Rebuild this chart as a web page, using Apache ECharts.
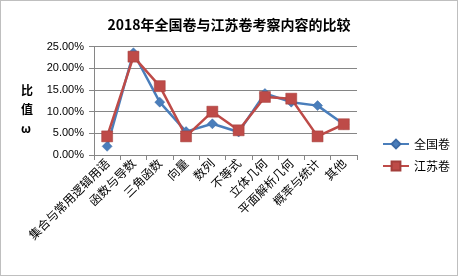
<!DOCTYPE html>
<html>
<head>
<meta charset="utf-8">
<script src="https://cdn.jsdelivr.net/npm/echarts@6/dist/echarts.min.js"></script>
<style>
  html, body { margin: 0; padding: 0; background: #fff; }
  #chart { width: 458px; height: 276px; box-sizing: border-box; border: 1px solid #bfbfbf; }
</style>
</head>
<body>
<div id="chart"></div>
<script>
const categories = ['集合与常用逻辑用语', '函数与导数', '三角函数', '向量', '数列', '不等式', '立体几何', '平面解析几何', '概率与统计', '其他'];
const nationalValues = [0.020, 0.236, 0.122, 0.054, 0.072, 0.053, 0.142, 0.122, 0.114, 0.071];
const jiangsuValues = [0.043, 0.227, 0.159, 0.043, 0.100, 0.057, 0.134, 0.130, 0.043, 0.071];
const yTicks = [0, 0.05, 0.10, 0.15, 0.20, 0.25];

const cjk = '"Noto Sans CJK SC", sans-serif';
const chart = echarts.init(document.getElementById('chart'));

chart.setOption({
  animation: false,
  title: {
    text: '2018年全国卷与江苏卷考察内容的比较',
    left: 'center',
    top: 12,
    textStyle: { fontSize: 14, fontWeight: 'bold', color: '#000', fontFamily: cjk },
  },
  legend: {
    orient: 'vertical',
    left: 376,
    top: 132,
    itemWidth: 26,
    itemHeight: 11,
    itemGap: 10,
    textStyle: { fontSize: 12, color: '#000', fontFamily: cjk },
    data: ['全国卷', '江苏卷'],
  },
  graphic: [
    {
      type: 'text',
      left: 20,
      top: 80,
      style: {
        text: '比\n值\nω',
        font: 'bold 12px "Noto Sans CJK SC", sans-serif',
        lineHeight: 19,
        fill: '#000',
        align: 'center',
      },
    },
  ],
  grid: { left: 93, right: 100, top: 45.7, bottom: 120 },
  xAxis: {
    type: 'category',
    data: categories,
    boundaryGap: true,
    axisLine: { lineStyle: { color: '#868686' } },
    axisTick: { show: true, length: 5, lineStyle: { color: '#868686' } },
    axisLabel: {
      rotate: 45,
      interval: 0,
      margin: 6,
      fontSize: 12,
      color: '#000',
      fontFamily: cjk,
    },
  },
  yAxis: {
    type: 'value',
    min: yTicks[0],
    max: yTicks[yTicks.length - 1],
    interval: 0.05,
    axisLine: { show: true, lineStyle: { color: '#868686' } },
    axisTick: { show: true, length: 5, lineStyle: { color: '#868686' } },
    axisLabel: {
      margin: 10,
      fontSize: 11,
      color: '#000',
      fontFamily: '"Liberation Sans", sans-serif',
      formatter: (v) => (v * 100).toFixed(2) + '%',
    },
    splitLine: { lineStyle: { color: '#868686' } },
  },
  series: [
    {
      name: '全国卷',
      type: 'line',
      data: nationalValues,
      symbol: 'diamond',
      symbolSize: 10,
      lineStyle: { color: '#4a7ebb', width: 2.5 },
      itemStyle: { color: '#4a7ebb', borderColor: '#3c6aa5', borderWidth: 0.5 },
    },
    {
      name: '江苏卷',
      type: 'line',
      data: jiangsuValues,
      symbol: 'rect',
      symbolSize: 11,
      lineStyle: { color: '#be4b48', width: 2.5 },
      itemStyle: { color: '#be4b48', borderColor: '#a33e3b', borderWidth: 0.5 },
    },
  ],
});
</script>
</body>
</html>
